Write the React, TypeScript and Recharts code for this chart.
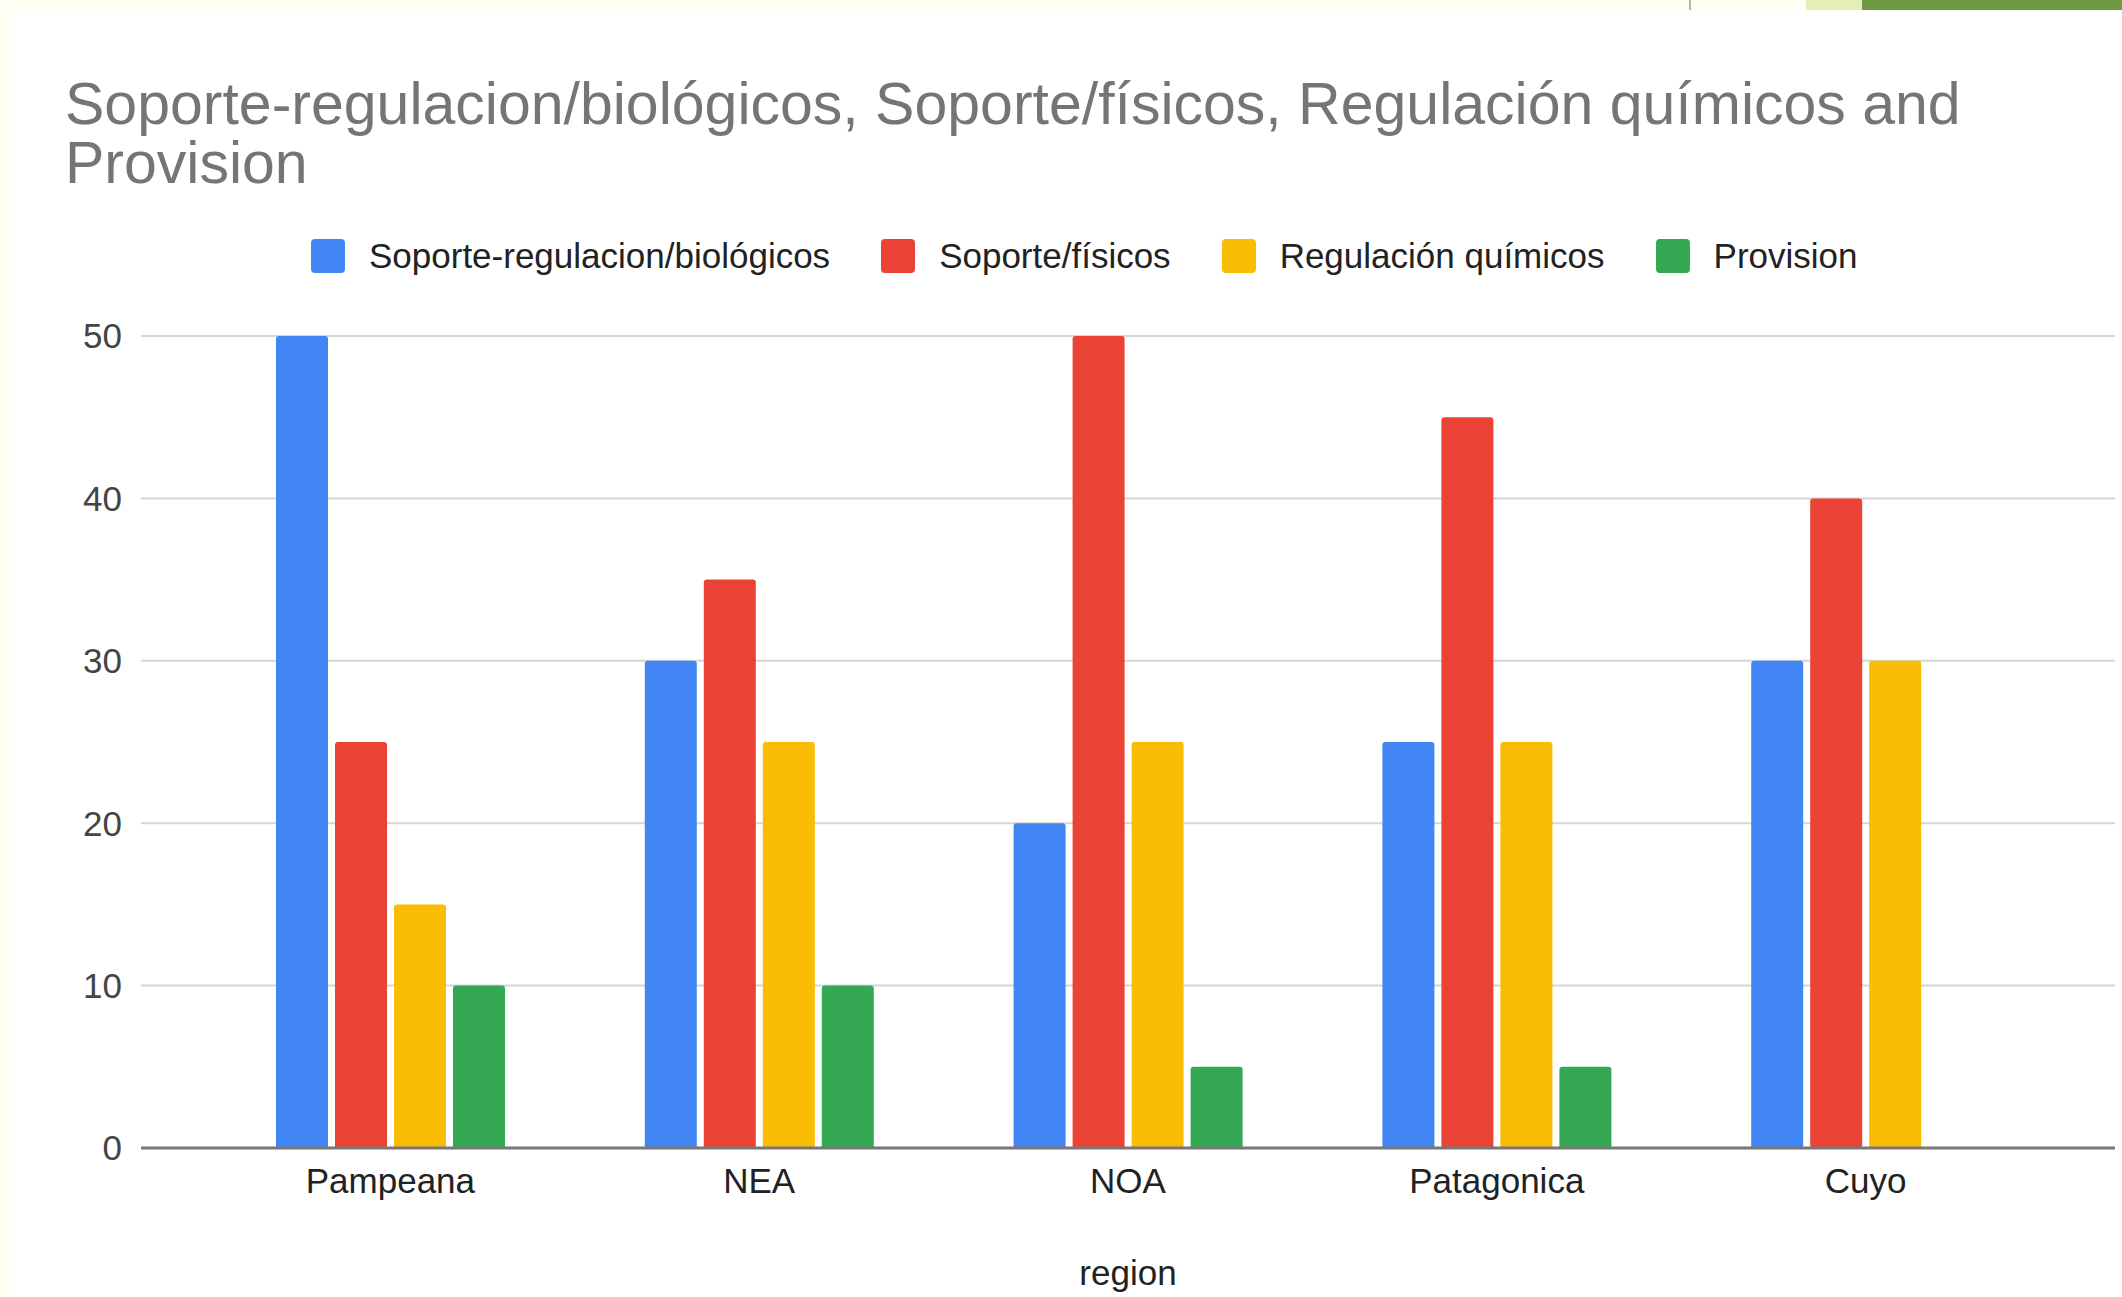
import { BarChart, Bar, XAxis, YAxis, CartesianGrid, Legend } from "recharts";

const regions = ["Pampeana", "NEA", "NOA", "Patagonica", "Cuyo"];
const soporteRegulacionBiologicos = [50, 30, 20, 25, 30];
const soporteFisicos = [25, 35, 50, 45, 40];
const regulacionQuimicos = [15, 25, 25, 25, 30];
const provision = [10, 10, 5, 5, 0];
const yTicks = [0, 10, 20, 30, 40, 50];

const seriesNames = [
  "Soporte-regulacion/biológicos",
  "Soporte/físicos",
  "Regulación químicos",
  "Provision",
];
const seriesColors = ["#4285F4", "#EA4335", "#FBBC04", "#34A853"];

const FONT = '"Liberation Sans", Arial, sans-serif';

const data = regions.map((region, i) => ({
  region,
  s0: soporteRegulacionBiologicos[i],
  s1: soporteFisicos[i],
  s2: regulacionQuimicos[i],
  s3: provision[i],
}));

function LegendRow({ payload }: any) {
  // keep series order, recharts sorts by name otherwise
  const items = [...(payload || [])].sort(
    (a: any, b: any) => seriesNames.indexOf(a.value) - seriesNames.indexOf(b.value)
  );
  return (
    <div style={{ display: "flex", alignItems: "center", height: 34, fontFamily: FONT }}>
      {items.map((p: any) => (
        <div key={p.value} style={{ display: "flex", alignItems: "center", marginRight: 51 }}>
          <span
            style={{
              width: 34,
              height: 34,
              borderRadius: 4,
              background: p.color,
              display: "inline-block",
              marginRight: 24,
            }}
          />
          <span style={{ fontSize: 35, lineHeight: "34px", color: "#222" }}>{p.value}</span>
        </div>
      ))}
    </div>
  );
}

export default function App() {
  return (
    <div
      style={{
        position: "absolute",
        left: 0,
        top: 0,
        width: 2122,
        height: 1297,
        background: "#fffef3",
        overflow: "hidden",
        fontFamily: FONT,
      }}
    >
      {/* slide strip at the top */}
      <div style={{ position: "absolute", left: 1689, top: 0, width: 2, height: 10, background: "#b8b8a8" }} />
      <div style={{ position: "absolute", left: 1806, top: 0, width: 60, height: 10, background: "#e4efb8" }} />
      <div style={{ position: "absolute", left: 1862, top: 0, width: 260, height: 10, background: "#6f9a44" }} />
      <div style={{ position: "absolute", left: 10, top: 10, width: 2112, height: 1287, background: "#fff" }} />

      <div
        style={{
          position: "absolute",
          left: 65,
          top: 75,
          width: 1980,
          fontSize: 59,
          lineHeight: "59px",
          color: "#757575",
        }}
      >
        Soporte-regulacion/biológicos, Soporte/físicos, Regulación químicos and Provision
      </div>

      <div style={{ position: "absolute", left: 0, top: 0 }}>
        <BarChart
          width={2122}
          height={1297}
          data={data}
          margin={{ top: 336, right: 7, bottom: 0, left: 0 }}
          barSize={52}
          barGap={7}
        >
          <CartesianGrid vertical={false} stroke="#d6d6d6" strokeWidth={2} />
          <YAxis
            width={141}
            domain={[0, 50]}
            ticks={yTicks}
            axisLine={false}
            tickLine={false}
            tickSize={0}
            tickMargin={19}
            tick={{ fontSize: 35, fill: "#444", fontFamily: FONT }}
          />
          <Legend
            layout="horizontal"
            verticalAlign="middle"
            align="center"
            wrapperStyle={{ top: 239, left: 311, width: 1800 }}
            content={<LegendRow />}
          />
          {["s0", "s1", "s2", "s3"].map((key, i) => (
            <Bar
              key={key}
              dataKey={key}
              name={seriesNames[i]}
              fill={seriesColors[i]}
              radius={[3, 3, 0, 0]}
              isAnimationActive={false}
            />
          ))}
          <XAxis
            dataKey="region"
            height={149}
            padding={{ left: 65, right: 65 }}
            axisLine={{ stroke: "#777", strokeWidth: 3 }}
            tickLine={false}
            tickSize={0}
            tickMargin={20}
            tick={{ fontSize: 35, fill: "#222", fontFamily: FONT }}
            label={{
              value: "region",
              position: "insideBottom",
              offset: 12,
              style: { fontSize: 35, fill: "#222", fontFamily: FONT },
            }}
          />
        </BarChart>
      </div>
    </div>
  );
}
